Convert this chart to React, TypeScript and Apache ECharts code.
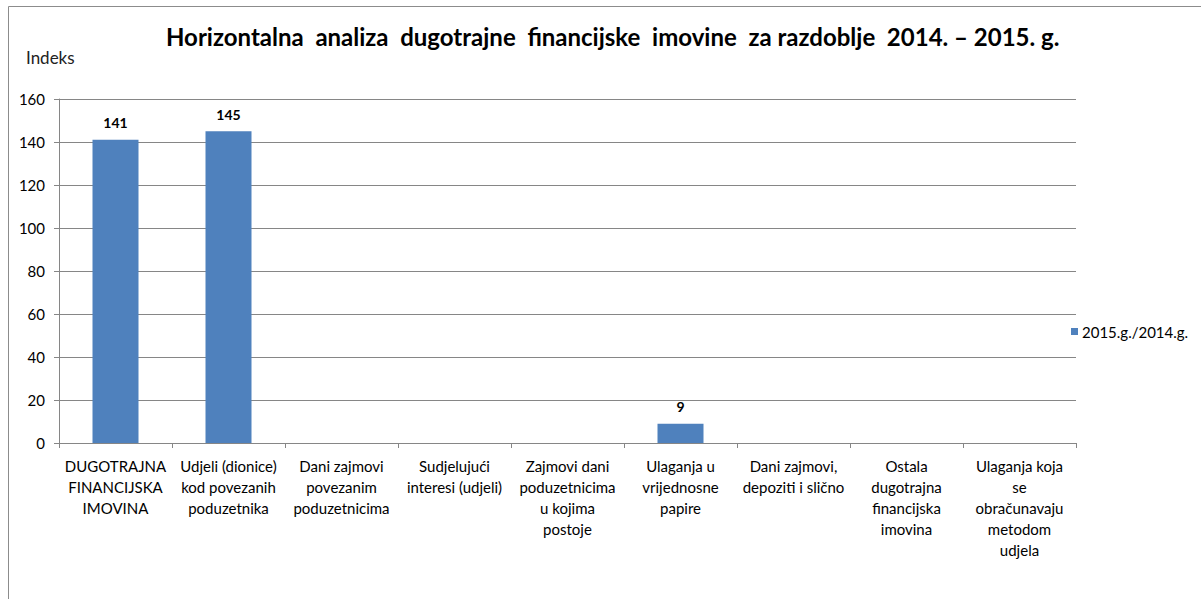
import React, { useEffect, useRef } from "react";
import * as echarts from "echarts";

const categories = [
  "DUGOTRAJNA\nFINANCIJSKA\nIMOVINA",
  "Udjeli (dionice)\nkod povezanih\npoduzetnika",
  "Dani zajmovi\npovezanim\npoduzetnicima",
  "Sudjelujući\ninteresi (udjeli)",
  "Zajmovi dani\npoduzetnicima\nu kojima\npostoje",
  "Ulaganja u\nvrijednosne\npapire",
  "Dani zajmovi,\ndepoziti i slično",
  "Ostala\ndugotrajna\nfinancijska\nimovina",
  "Ulaganja koja\nse\nobračunavaju\nmetodom\nudjela",
];
const seriesName = "2015.g./2014.g.";
const values: (number | null)[] = [141, 145, null, null, null, 9, null, null, null];
const yTicks = { min: 0, max: 160, interval: 20 };

const FONT = "Lato, 'Open Sans', sans-serif";

export default function App() {
  const ref = useRef<HTMLDivElement>(null);
  useEffect(() => {
    if (!ref.current) return;
    const chart = echarts.init(ref.current, null, { renderer: "svg" });
    chart.setOption({
      animation: false,
      backgroundColor: "#ffffff",
      textStyle: { fontFamily: FONT },
      title: {
        text: "Horizontalna  analiza  dugotrajne  financijske  imovine  za razdoblje  2014. – 2015. g.",
        left: 161,
        top: 19,
        textStyle: { fontFamily: FONT, fontSize: 24, fontWeight: "bold", color: "#000000" },
      },
      legend: {
        left: 1066,
        top: 319,
        icon: "rect",
        itemWidth: 7,
        itemHeight: 7,
        itemGap: 4,
        textStyle: { fontFamily: FONT, fontSize: 15, color: "#000000", padding: [0, 0, 0, -1] },
        data: [seriesName],
      },
      graphic: [
        {
          type: "rect",
          shape: { x: 8.5, y: 6.5, width: 1300, height: 700 },
          style: { fill: "none", stroke: "#8c8c8c", lineWidth: 1 },
          silent: true,
        },
        {
          type: "text",
          left: 26,
          top: 49,
          style: { text: "Indeks", fontFamily: FONT, fontSize: 17, fill: "#222222" },
        },
      ],
      grid: { left: 59, right: 125, top: 99, bottom: 156, containLabel: false },
      xAxis: {
        type: "category",
        data: categories,
        axisLine: { lineStyle: { color: "#868686", width: 1 } },
        axisTick: { show: true, length: 5, lineStyle: { color: "#868686" } },
        axisLabel: {
          interval: 0,
          fontFamily: FONT,
          fontSize: 15,
          color: "#000000",
          lineHeight: 21,
          margin: 12,
          align: "center",
        },
      },
      yAxis: {
        type: "value",
        min: yTicks.min,
        max: yTicks.max,
        interval: yTicks.interval,
        axisLine: { show: true, lineStyle: { color: "#868686", width: 1 } },
        axisTick: { show: true, length: 5, lineStyle: { color: "#868686" } },
        splitLine: { lineStyle: { color: "#868686", width: 1 } },
        axisLabel: { fontFamily: FONT, fontSize: 15, color: "#000000", margin: 14 },
      },
      series: [
        {
          name: seriesName,
          type: "bar",
          data: values,
          barWidth: 46,
          itemStyle: { color: "#4f81bd" },
          label: {
            show: true,
            position: "top",
            distance: 10,
            fontFamily: FONT,
            fontSize: 14,
            fontWeight: "bold",
            color: "#000000",
          },
        },
      ],
    });
    return () => chart.dispose();
  }, []);
  return (
    <div
      ref={ref}
      style={{ position: "fixed", left: 0, top: 0, width: 1201, height: 599 }}
    />
  );
}
